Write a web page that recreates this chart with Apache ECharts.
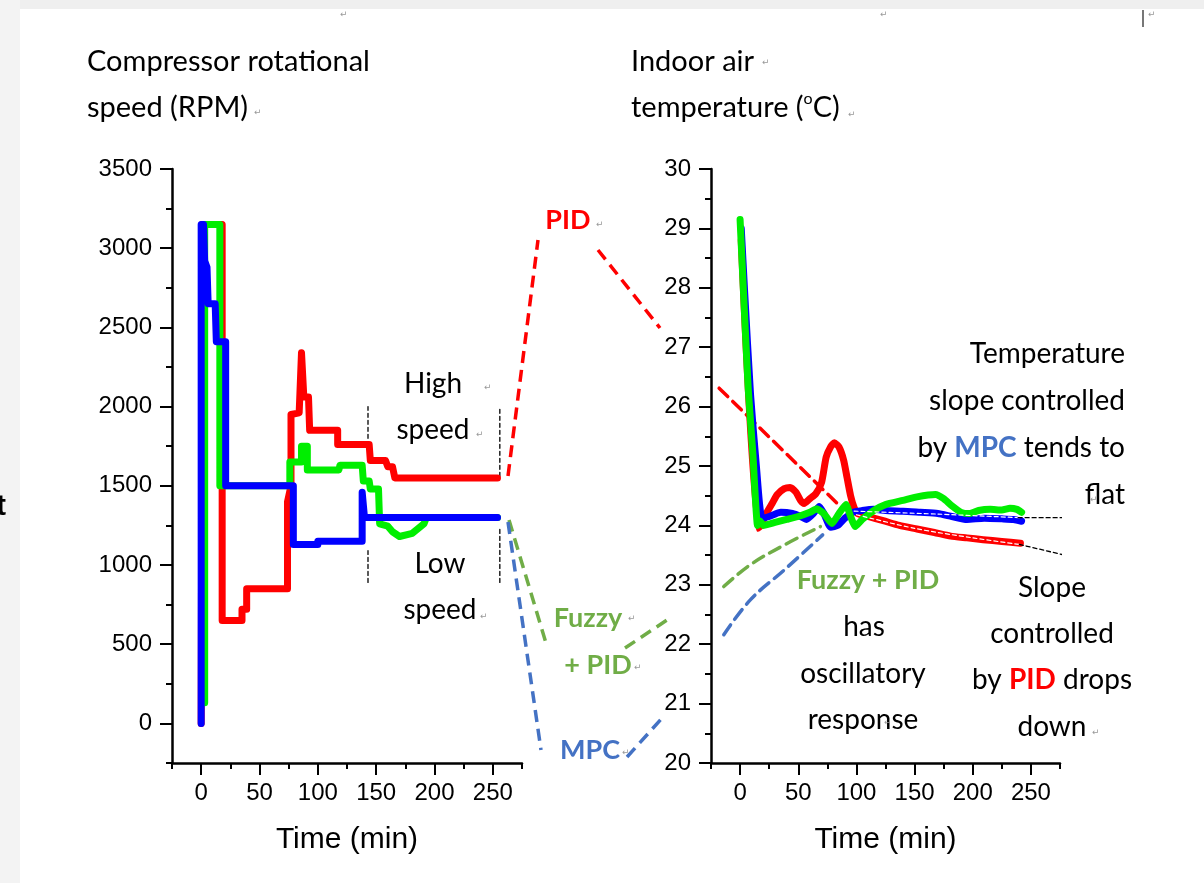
<!DOCTYPE html>
<html>
<head>
<meta charset="utf-8">
<script src="https://cdn.jsdelivr.net/npm/echarts@6/dist/echarts.min.js"></script>
<style>
html,body{margin:0;padding:0;background:#fff}
#main{width:1204px;height:883px}
</style>
</head>
<body>
<div id="main"></div>
<script>
// compressor speed (RPM), left panel, [time (min), rpm]
var pidRpm = [[0,0],[1,3150],[18,3150],[18,650],[35,650],[35,720],[39,720],[39,850],[74,850],[74,1400],[77,1500],[77,1950],[84,1960],[86,2340],[88,2060],[92,2060],[93,1850],[117,1850],[117,1760],[144,1760],[145,1660],[158,1660],[160,1620],[164,1620],[166,1550],[254,1550]]
var fuzzyRpm = [[3,130],[3,3150],[16,3150],[16,1500],[76,1500],[76,1650],[86,1650],[86,1750],[91,1750],[91,1600],[118,1600],[119,1630],[138,1630],[139,1530],[144,1530],[145,1480],[152,1480],[153,1260],[160,1245],[164,1210],[170,1180],[181,1200],[191,1260],[193,1300],[254,1300]]
var mpcRpm = [[0,0],[0,3150],[2,3150],[3,2920],[5,2880],[6,2650],[12,2650],[13,2410],[21,2410],[21,1500],[79,1500],[79,1130],[100,1130],[100,1150],[138,1150],[138,1460],[140,1300],[254,1300]]

// indoor air temperature (C), right panel
var pidTemp = [[1,28.8],[15,23.95],[18,24.0],[22,24.18],[27,24.35],[32,24.52],[38,24.62],[43,24.64],[48,24.56],[52,24.42],[55,24.37],[60,24.45],[65,24.53],[70,24.72],[74,25.15],[78,25.33],[81,25.39],[85,25.32],[89,25.1],[92,24.8],[95,24.5],[98,24.3],[101,24.2],[110,24.15],[123,24.08],[137,24.0],[152,23.94],[167,23.88],[181,23.82],[195,23.79],[209,23.76],[225,23.73],[241,23.7]]
var fuzzyTemp = [[0,29.15],[3,27.9],[7,26.3],[11,25.2],[15,24.0],[17,24.08],[20,24.0],[30,24.05],[40,24.1],[50,24.15],[60,24.22],[66,24.28],[72,24.2],[79,24.03],[85,24.2],[91,24.35],[95,24.15],[99,23.98],[105,24.1],[115,24.25],[125,24.35],[140,24.42],[152,24.48],[168,24.52],[175,24.45],[182,24.33],[190,24.22],[197,24.2],[205,24.25],[215,24.27],[225,24.26],[232,24.29],[238,24.27],[242,24.22]]
var mpcTemp = [[1,29.0],[4,27.9],[9,26.2],[14,25.0],[19,24.12],[25,24.15],[35,24.22],[45,24.2],[52,24.15],[57,24.1],[63,24.2],[68,24.32],[72,24.2],[78,23.97],[84,24.0],[90,24.12],[97,24.22],[105,24.25],[115,24.27],[125,24.25],[140,24.24],[155,24.22],[170,24.2],[182,24.15],[195,24.1],[210,24.12],[225,24.11],[235,24.1],[242,24.07]]

// fitted tails and their extensions
var pidFit = [[100,24.18],[150,23.95],[200,23.79],[240,23.68]]
var mpcFit = [[98,24.24],[170,24.19],[240,24.13]]
var pidTrend = [[240,23.68],[292,23.44]]
var mpcTrend = [[239,24.13],[332,24.13]]

// hand drawn guide dashes inside the right panel
var pidGuide = [[-18,26.31],[83.5,24.37]]
var fuzzyGuide = [[-14,22.97],[9,23.34],[38,23.67],[69,23.98]]
var mpcGuide = [[-14,22.16],[9,22.75],[38,23.25],[71,23.84]]

// high / low speed markers, left panel
var highMarkA = [[143,1800],[143,2000]]
var highMarkB = [[256,1560],[256,2000]]
var lowMarkA = [[143,890],[143,1090]]
var lowMarkB = [[256,890],[256,1240]]

// ticks
var timeTicks = [0,50,100,150,200,250]
var timeMinor = [-25,25,75,125,175,225,275]
var rpmTicks = [0,500,1000,1500,2000,2500,3000,3500]
var rpmMinor = [-250,250,750,1250,1750,2250,2750,3250]
var tempTicks = [20,21,22,23,24,25,26,27,28,29,30]
var tempMinor = [20.5,21.5,22.5,23.5,24.5,25.5,26.5,27.5,28.5,29.5]

var FONT = 'Lato'
var NUMFONT = 'Liberation Sans'
var TS = 28   // annotation text size

function xAx(grid, vals, len, main){
	return {
		type:'value', gridIndex:grid, min:-25, max:275, position:'bottom',
		axisLine:{show:main, onZero:false, lineStyle:{color:'#000', width:2.5}},
		axisTick:{show:true, customValues:vals, length:len, lineStyle:{color:'#000', width:2}},
		axisLabel:{show:main, customValues:vals, fontSize:24, color:'#000', fontFamily:NUMFONT, margin:18,
			formatter:function(v){ return String(v) }},
		splitLine:{show:false},
		name: main ? 'Time (min)' : '', nameLocation:'middle', nameGap:62,
		nameTextStyle:{fontSize:30, color:'#000', fontFamily:NUMFONT}
	}
}
function yAx(grid, min, max, vals, len, main){
	return {
		type:'value', gridIndex:grid, min:min, max:max, position:'left',
		axisLine:{show:main, onZero:false, lineStyle:{color:'#000', width:2.5}},
		axisTick:{show:true, customValues:vals, length:len, lineStyle:{color:'#000', width:2}},
		axisLabel:{show:main, customValues:vals, fontSize:24, color:'#000', fontFamily:NUMFONT, margin:20,
			formatter:function(v){ return String(v) }},
		splitLine:{show:false}
	}
}
function line(x, y, data, color, width, z, dash, smooth){
	return {
		type:'line', xAxisIndex:x, yAxisIndex:y, data:data, symbol:'none', smooth:smooth || false,
		clip:false, z:z, silent:true,
		lineStyle:{color:color, width:width, type:dash || 'solid', cap:'round', join:'round'}
	}
}
function txt(x, y, s, opt){
	opt = opt || {}
	return {
		type:'text', x:x, y:y, z:100,
		style:{
			text:s, fill:opt.fill || '#000', fontFamily:FONT, fontSize:opt.size || TS,
			fontWeight:opt.bold ? 'bold' : 'normal',
			align:opt.align || 'center', verticalAlign:'middle', rich:opt.rich
		}
	}
}
function dash(x1, y1, x2, y2, color){
	return {type:'line', z:50, shape:{x1:x1, y1:y1, x2:x2, y2:y2},
		style:{stroke:color, lineWidth:3.5, lineDash:[12,7]}}
}
function ret(x, y){
	return {type:'text', x:x, y:y, z:100, style:{text:'\u21b5', fill:'#999', fontSize:9, fontFamily:'DejaVu Sans'}}
}

var RED = '#ff0000', GREEN = '#00ee00', BLUE = '#0000ff'
var RED2 = '#ff0000', GREEN2 = '#70ad47', BLUE2 = '#4472c4'

var chart = echarts.init(document.querySelector('#main'))

var option = {
	animation:false,
	backgroundColor:'#fff',
	grid:[
		{left:172, top:169, width:350, height:594},
		{left:711, top:169, width:349, height:594}
	],
	xAxis:[
		xAx(0, timeTicks, 12, true),
		xAx(0, timeMinor, 6, false),
		xAx(1, timeTicks, 12, true),
		xAx(1, timeMinor, 6, false)
	],
	yAxis:[
		yAx(0, -250, 3500, rpmTicks, 12, true),
		yAx(0, -250, 3500, rpmMinor, 6, false),
		yAx(1, 20, 30, tempTicks, 12, true),
		yAx(1, 20, 30, tempMinor, 6, false)
	],
	series:[
		line(0, 0, highMarkA, '#000', 1.3, 2, [4,3]),
		line(0, 0, highMarkB, '#000', 1.3, 2, [4,3]),
		line(0, 0, lowMarkA, '#000', 1.3, 2, [4,3]),
		line(0, 0, lowMarkB, '#000', 1.3, 2, [4,3]),
		line(0, 0, pidRpm, RED, 7, 3),
		line(0, 0, fuzzyRpm, GREEN, 7, 4),
		line(0, 0, mpcRpm, BLUE, 7, 5),

		line(2, 2, pidGuide, RED2, 3.5, 2, [12,7]),
		line(2, 2, fuzzyGuide, GREEN2, 3.5, 2, [12,7], 0.4),
		line(2, 2, mpcGuide, BLUE2, 3.5, 2, [12,7], 0.4),
		line(2, 2, pidTemp, RED, 7, 3, null, 0.2),
		line(2, 2, mpcTemp, BLUE, 7, 4, null, 0.2),
		line(2, 2, fuzzyTemp, GREEN, 7, 5, null, 0.15),
		line(2, 2, pidFit, '#fff', 1.2, 6, [4,3], 0.3),
		line(2, 2, mpcFit, '#fff', 1.2, 6, [4,3], 0.3),
		line(2, 2, pidTrend, '#000', 1.3, 6, [4,3]),
		line(2, 2, mpcTrend, '#000', 1.3, 6, [4,3])
	],
	graphic:[
		// page frame of the screenshot
		{type:'rect', z:0, shape:{x:0, y:0, width:1204, height:9}, style:{fill:'#efefef'}},
		{type:'rect', z:0, shape:{x:0, y:0, width:20, height:883}, style:{fill:'#f3f3f3'}},
		{type:'rect', z:0, shape:{x:1142, y:10, width:2, height:17}, style:{fill:'#777'}},
		{type:'text', x:-4, y:507, z:100, style:{text:'t', fontSize:30, fontWeight:'bold', fill:'#000', fontFamily:NUMFONT, verticalAlign:'middle'}},

		txt(87, 62, 'Compressor rotational', {align:'left', size:29}),
		txt(87, 108, 'speed (RPM)', {align:'left', size:29}),
		txt(631, 62, 'Indoor air', {align:'left', size:29}),
		txt(631, 108, 'temperature ({s|o}C)', {align:'left', size:29,
			rich:{s:{fontSize:16, fontFamily:FONT, fill:'#000', verticalAlign:'top', lineHeight:34}}}),

		txt(433, 384, 'High'),
		txt(433, 430, 'speed'),
		txt(440, 564, 'Low'),
		txt(440, 610, 'speed'),

		txt(568, 220, 'PID', {bold:true, fill:RED2, size:27}),
		txt(588, 618, 'Fuzzy', {bold:true, fill:GREEN2, size:27}),
		txt(598, 665, '+ PID', {bold:true, fill:GREEN2, size:27}),
		txt(590, 750, 'MPC', {bold:true, fill:BLUE2, size:27}),

		txt(1125, 354, 'Temperature', {align:'right'}),
		txt(1125, 401, 'slope controlled', {align:'right'}),
		txt(1125, 448, 'by {m|MPC} tends to', {align:'right',
			rich:{m:{fontSize:TS, fontFamily:FONT, fontWeight:'bold', fill:BLUE2}}}),
		txt(1125, 495, 'flat', {align:'right'}),

		txt(868, 580, 'Fuzzy + PID', {bold:true, fill:GREEN2, size:27}),
		txt(864, 627, 'has'),
		txt(863, 674, 'oscillatory'),
		txt(863, 720, 'response'),

		txt(1052, 588, 'Slope'),
		txt(1052, 634, 'controlled'),
		txt(1052, 680, 'by {p|PID} drops', {
			rich:{p:{fontSize:TS, fontFamily:FONT, fontWeight:'bold', fill:RED2}}}),
		txt(1052, 727, 'down'),

		// connectors between the panels
		dash(508, 476, 538, 240, RED2),
		dash(598, 250, 660, 328, RED2),
		dash(509, 520, 546, 643, GREEN2),
		dash(625, 648, 667, 620, GREEN2),
		dash(508, 522, 541, 750, BLUE2),
		dash(627, 757, 663, 717, BLUE2),

		ret(340, 10), ret(880, 10), ret(1148, 10),
		ret(254, 108), ret(848, 110), ret(762, 58),
		ret(484, 383), ret(476, 430), ret(480, 612), ret(596, 220),
		ret(628, 614), ret(634, 663), ret(622, 748),
		ret(1090, 495), ret(1092, 728), ret(884, 718)
	]
}

chart.setOption(option)
</script>
</body>
</html>
